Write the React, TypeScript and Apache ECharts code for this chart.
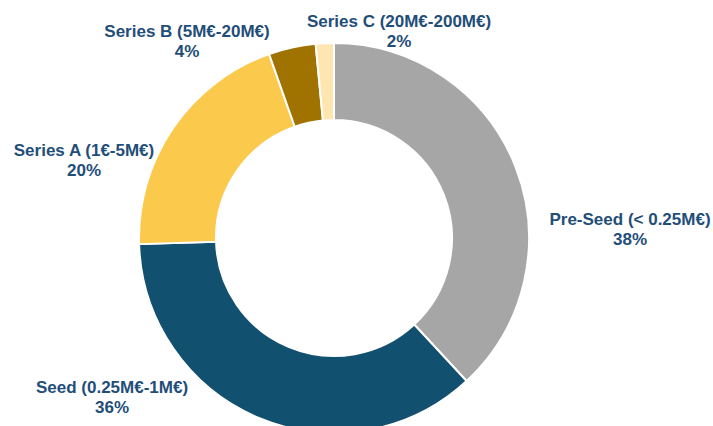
import React, { useEffect, useRef } from "react";
import * as echarts from "echarts";

const categories = [
  "Pre-Seed (< 0.25M€)",
  "Seed (0.25M€-1M€)",
  "Series A (1€-5M€)",
  "Series B (5M€-20M€)",
  "Series C (20M€-200M€)",
];
const values = [38.1, 36.4, 20.1, 3.9, 1.5];
const colors = ["#A6A6A6", "#11506F", "#FBC94C", "#A07300", "#FFE6B1"];
const labelPos: [number, number][] = [
  [630, 229],
  [112, 397],
  [84, 160],
  [187, 41],
  [399, 31],
];

export default function App() {
  const ref = useRef<HTMLDivElement>(null);
  useEffect(() => {
    if (!ref.current) return;
    const chart = echarts.init(ref.current, undefined, { renderer: "svg" });
    chart.setOption({
      animation: false,
      backgroundColor: "#FFFFFF",
      series: [
        {
          type: "pie",
          center: [334, 238],
          radius: [118, 195],
          startAngle: 90,
          clockwise: true,
          avoidLabelOverlap: false,
          itemStyle: { borderColor: "#FFFFFF", borderWidth: 2 },
          label: {
            show: true,
            position: "outside",
            formatter: (p: any) => `${p.name}\n${Math.round(p.percent)}%`,
            color: "#1F4E79",
            fontFamily: "Liberation Sans, Arial, sans-serif",
            fontWeight: "bold",
            fontSize: 17,
            lineHeight: 20,
            align: "center",
          },
          labelLine: { show: false },
          labelLayout: (params: any) => {
            const p = labelPos[params.dataIndex];
            return { x: p[0], y: p[1], align: "center", verticalAlign: "middle" };
          },
          emphasis: { disabled: true },
          data: categories.map((name, i) => ({
            name,
            value: values[i],
            itemStyle: { color: colors[i] },
          })),
        },
      ],
    });
    return () => chart.dispose();
  }, []);
  return (
    <div
      ref={ref}
      style={{ position: "fixed", left: 0, top: 0, width: 713, height: 426 }}
    />
  );
}
